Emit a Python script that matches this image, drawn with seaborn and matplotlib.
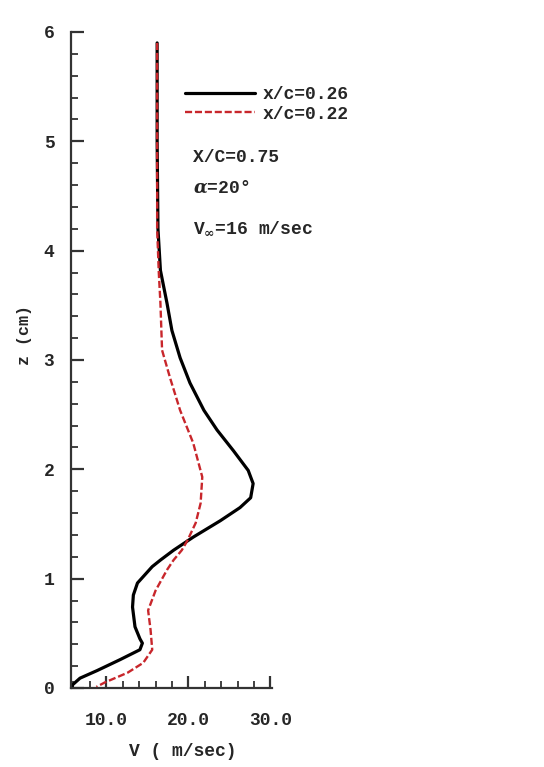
import numpy as np
import pandas as pd
import matplotlib
matplotlib.use("Agg")
import matplotlib.pyplot as plt
import seaborn as sns
from matplotlib.lines import Line2D
from matplotlib.ticker import MultipleLocator

# ---- data ----
z_026 = [5.90, 5.00, 4.20, 3.82, 3.52, 3.27, 3.02, 2.79, 2.54, 2.36, 2.17, 1.99, 1.87, 1.74,
         1.65, 1.53, 1.38, 1.26, 1.17, 1.11, 0.96, 0.85, 0.74, 0.56, 0.45, 0.41, 0.35, 0.26,
         0.16, 0.09, 0.03, 0.00]
v_026 = [16.2, 16.2, 16.3, 16.6, 17.4, 18.0, 19.0, 20.2, 21.9, 23.5, 25.5, 27.3, 27.9, 27.6,
         26.3, 23.9, 20.6, 18.2, 16.6, 15.6, 13.8, 13.3, 13.2, 13.5, 14.1, 14.4, 14.1, 11.7,
         8.9, 6.8, 5.9, 5.8]

z_022 = [5.90, 5.00, 4.20, 3.80, 3.52, 3.09, 2.83, 2.54, 2.24, 1.93, 1.69, 1.51, 1.35, 1.26,
         1.17, 1.08, 0.89, 0.71, 0.53, 0.35, 0.23, 0.14, 0.05, 0.01]
v_022 = [16.2, 16.2, 16.2, 16.4, 16.6, 16.8, 17.8, 19.0, 20.6, 21.7, 21.5, 20.9, 19.9, 19.2,
         18.2, 17.4, 16.0, 15.1, 15.4, 15.6, 14.5, 12.6, 9.8, 8.8]

labels = ["x/c=0.26", "x/c=0.22"]
x_ticks = [10.0, 20.0, 30.0]
x_tick_labels = ["10.0", "20.0", "30.0"]
y_ticks = [0, 1, 2, 3, 4, 5, 6]
annot = ["X/C=0.75", r"$\alpha$=20°", r"V$_{\infty}$=16 m/sec"]

df = pd.concat([
    pd.DataFrame({"V": v_026, "z": z_026, "case": labels[0]}),
    pd.DataFrame({"V": v_022, "z": z_022, "case": labels[1]}),
], ignore_index=True)

sns.set_style("white")
plt.rcParams["font.family"] = ["Liberation Mono", "DejaVu Sans"]
plt.rcParams["font.weight"] = "bold"
plt.rcParams["mathtext.fontset"] = "dejavuserif"

W, H = 544, 767
fig = plt.figure(figsize=(W / 100, H / 100), dpi=100)
ax = fig.add_axes([71 / W, 1 - 688 / H, (272 - 71) / W, (688 - 32) / H])

sns.lineplot(data=df[df.case == labels[0]], x="V", y="z", sort=False, estimator=None,
             color="black", lw=2.3, ax=ax, legend=False)
sns.lineplot(data=df[df.case == labels[1]], x="V", y="z", sort=False, estimator=None,
             color="#c8262b", lw=1.7, ax=ax, legend=False)
ax.lines[1].set_dashes([3, 1.2])
for ln in ax.lines:
    ln.set_solid_joinstyle("round")
    ln.set_dash_joinstyle("round")

ax.set_xlim(5.7, 30.2)
ax.set_ylim(0, 6)
ax.set_xticks(x_ticks)
ax.set_xticklabels(x_tick_labels)
ax.set_yticks(y_ticks)
ax.xaxis.set_minor_locator(MultipleLocator(2))
ax.yaxis.set_minor_locator(MultipleLocator(0.2))
for s in ["top", "right"]:
    ax.spines[s].set_visible(False)
for s in ["left", "bottom"]:
    ax.spines[s].set_color("#333333")
    ax.spines[s].set_linewidth(1.6)
ax.tick_params(axis="both", which="both", bottom=True, left=True, top=False, right=False)
ax.tick_params(axis="both", which="major", direction="in", length=9, width=1.6,
               color="#333333", labelsize=13)
ax.tick_params(axis="both", which="minor", direction="in", length=5, width=1.3,
               color="#333333")
ax.tick_params(axis="x", which="major", pad=17)
ax.tick_params(axis="y", which="major", pad=12)
for t in ax.get_xticklabels() + ax.get_yticklabels():
    t.set_fontweight("bold")
ax.set_xlabel("")
ax.set_ylabel("")

fig.text(25 / W, 1 - 335 / H, "z (cm)", rotation=90, ha="center", va="center",
         fontsize=12, fontweight="bold")
fig.text(183 / W, 1 - 752 / H, "V ( m/sec)", ha="center", va="center",
         fontsize=13, fontweight="bold")

handles = [Line2D([], [], color="black", lw=2.3),
           Line2D([], [], color="#c8262b", lw=1.7, dashes=[3, 1.2])]
ax.legend(handles, labels, loc="upper left", bbox_to_anchor=(185 / W, 1 - 86 / H),
          bbox_transform=fig.transFigure, frameon=False, borderpad=0, borderaxespad=0,
          handlelength=3.9, handletextpad=0.4, labelspacing=0.15,
          prop={"family": ["Liberation Mono", "DejaVu Sans"], "weight": "bold", "size": 13})

for txt, yp in zip(annot, [157, 188, 228]):
    fig.text(193 / W, 1 - yp / H, txt, ha="left", va="center", fontsize=13, fontweight="bold")

fig.savefig("out.png", dpi=100)
